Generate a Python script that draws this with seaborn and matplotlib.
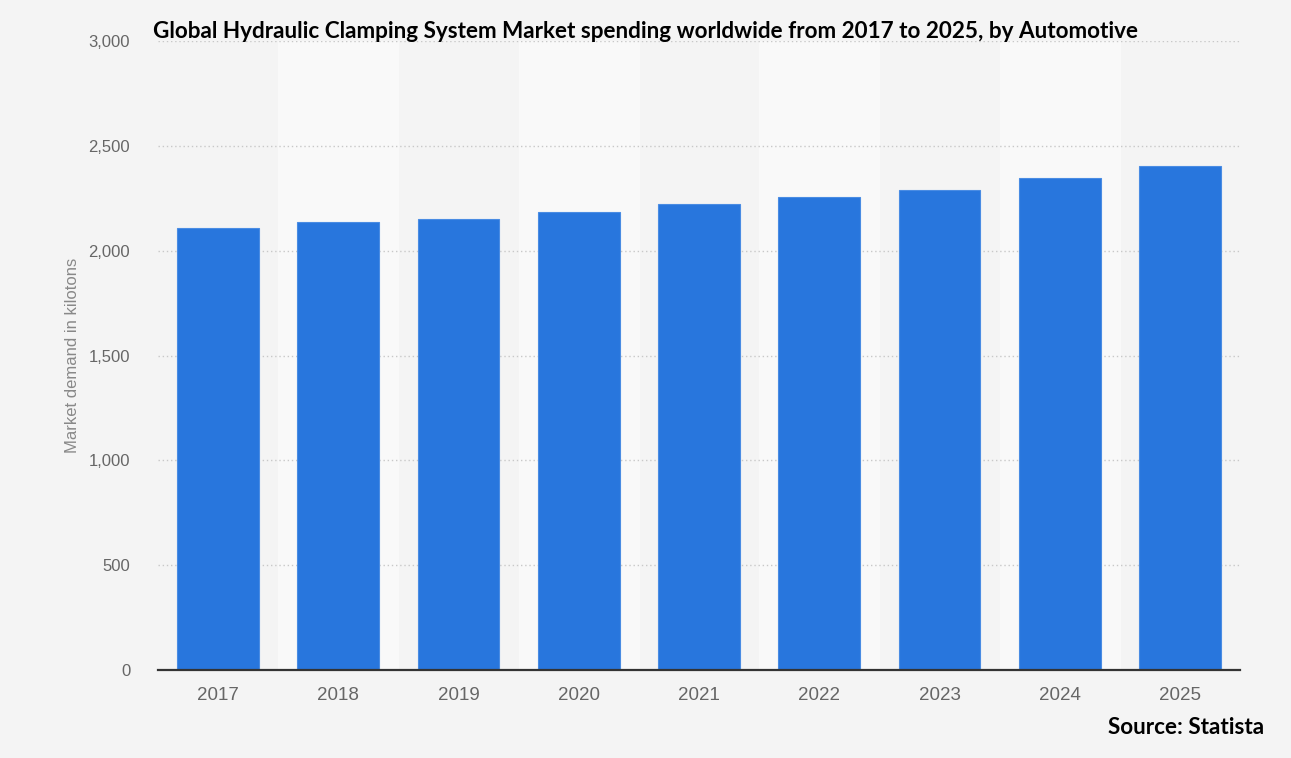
import numpy as np
import pandas as pd
import seaborn as sns
import matplotlib.pyplot as plt
from matplotlib.ticker import FuncFormatter

# Market demand values (kilotons)
years = ["2017", "2018", "2019", "2020", "2021", "2022", "2023", "2024", "2025"]
demand = [2108, 2136, 2151, 2184, 2222, 2256, 2289, 2346, 2403]

df = pd.DataFrame({"year": years, "demand": demand})

sns.set_theme(style="white")
plt.rcParams["font.family"] = ["Liberation Sans", "DejaVu Sans"]

bg = "#f4f4f4"
fig = plt.figure(figsize=(12.91, 7.58), dpi=100, facecolor=bg)
ax = fig.add_axes([0.1224, 0.1161, 0.8381, 0.8298])
ax.set_facecolor(bg)

# alternating light column bands
for i in range(1, len(years), 2):
    ax.axvspan(i - 0.5, i + 0.5, color="#f9f9f9", zorder=0)

sns.barplot(data=df, x="year", y="demand", color="#2876dd", width=0.68,
            saturation=1, ax=ax, zorder=3, edgecolor="#4a8ce3", linewidth=0.8)

ax.set_ylim(0, 3000)
ax.set_xlim(-0.5, len(years) - 0.5)
ax.set_yticks(np.arange(0, 3001, 500))
ax.yaxis.set_major_formatter(FuncFormatter(lambda v, p: f"{int(v):,}"))
ax.grid(axis="y", linestyle=(0, (1, 2)), color="#c8c8c8", linewidth=1, zorder=1)
ax.set_axisbelow(True)

for s in ["top", "right", "left"]:
    ax.spines[s].set_visible(False)
ax.spines["bottom"].set_color("#333333")
ax.spines["bottom"].set_linewidth(1.6)
ax.spines["bottom"].set_zorder(4)

ax.tick_params(axis="y", length=0, pad=20, labelsize=12, labelcolor="#666666")
ax.tick_params(axis="x", length=0, pad=12, labelsize=13.5, labelcolor="#666666")
ax.set_xlabel("")
ax.set_ylabel("Market demand in kilotons", fontsize=12, color="#888888", labelpad=6)

fig.text(0.5, 0.958,
         "Global Hydraulic Clamping System Market spending worldwide from 2017 to 2025, by Automotive",
         ha="center", va="center", fontsize=16.2, fontweight="bold", color="black",
         family=["Lato", "DejaVu Sans"])
fig.text(0.979, 0.04, "Source: Statista", ha="right", va="center",
         fontsize=16.2, fontweight="bold", color="black", family=["Lato", "DejaVu Sans"])

fig.savefig("out.png", dpi=100, facecolor=bg)
